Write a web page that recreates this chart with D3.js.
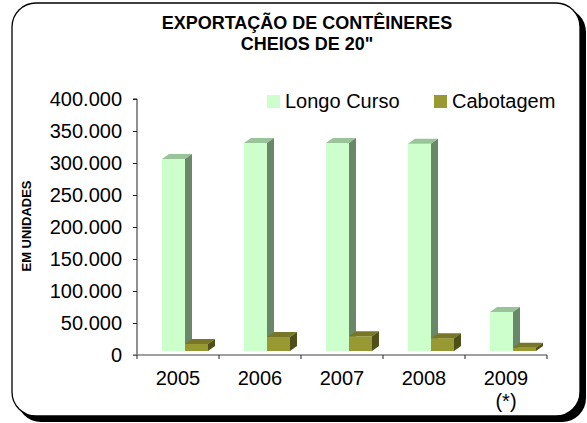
<!DOCTYPE html>
<html>
<head>
<meta charset="utf-8">
<script src="https://cdn.jsdelivr.net/npm/d3@7"></script>
<style>
body { margin: 0; background: #fff; }
text { font-family: "Liberation Sans", Arial, sans-serif; }
</style>
</head>
<body>
<script>
// data
var years = ["2005", "2006", "2007", "2008", "2009"];
var yearNotes = ["", "", "", "", "(*)"];
var seriesNames = ["Longo Curso", "Cabotagem"];
var longoCurso = [300000, 325000, 325000, 324000, 61000];
var cabotagem = [11000, 22000, 23000, 20000, 5000];
var yTicks = [0, 50000, 100000, 150000, 200000, 250000, 300000, 350000, 400000];

var W = 587, H = 423;
var svg = d3.select("body").append("svg").attr("width", W).attr("height", H);

// frame with shadow
svg.append("rect").attr("x", 17).attr("y", 8).attr("width", 569).attr("height", 414)
  .attr("rx", 24).attr("fill", "#000");
svg.append("rect").attr("x", 12).attr("y", 3).attr("width", 568).attr("height", 413)
  .attr("rx", 24).attr("fill", "#fff").attr("stroke", "#000").attr("stroke-width", 1.3);

// title
var title = svg.append("text").attr("text-anchor", "middle").attr("font-weight", "bold")
  .attr("font-size", 18);
title.append("tspan").attr("x", 307).attr("y", 29).text("EXPORTAÇÃO DE CONTÊINERES");
title.append("tspan").attr("x", 307).attr("y", 50).text("CHEIOS DE 20\"");

var y = d3.scaleLinear().domain([0, 400000]).range([355, 99]);
var x0 = d3.scaleBand().domain(years).range([137, 547]);
var x1 = d3.scaleBand().domain(seriesNames).range([25, 71]);

var fmt = function (d) { return d3.format(",")(d).replace(/,/g, "."); };

// y axis
var yAxis = svg.append("g").attr("transform", "translate(137,0)")
  .call(d3.axisLeft(y).tickValues(yTicks).tickFormat(fmt).tickSize(4).tickPadding(11));
yAxis.select(".domain").attr("stroke", "#222").attr("d", "M-4,99H0V355");
yAxis.selectAll(".tick line").attr("stroke", "#222");
yAxis.selectAll("text").attr("font-size", 20).attr("fill", "#000")
  .attr("font-family", "'Liberation Sans', Arial, sans-serif");

// x axis
var xg = svg.append("g").attr("transform", "translate(0,355)");
xg.append("line").attr("x1", 133).attr("x2", 547).attr("y1", 0).attr("y2", 0)
  .attr("stroke", "#808080").attr("stroke-width", 1.5);
xg.selectAll("line.tk").data(years.concat(["end"])).enter().append("line")
  .attr("class", "tk")
  .attr("x1", function (d, i) { return i < years.length ? x0(d) : x0.range()[1]; })
  .attr("x2", function (d, i) { return i < years.length ? x0(d) : x0.range()[1]; })
  .attr("y1", 0).attr("y2", 4).attr("stroke", "#222");
xg.selectAll("text.yr").data(years).enter().append("text").attr("class", "yr")
  .attr("x", function (d) { return x0(d) + x0.bandwidth() / 2; })
  .attr("y", 30).attr("text-anchor", "middle").attr("font-size", 20).text(function (d) { return d; });
xg.selectAll("text.note").data(yearNotes).enter().append("text").attr("class", "note")
  .attr("x", function (d, i) { return x0(years[i]) + x0.bandwidth() / 2; })
  .attr("y", 53).attr("text-anchor", "middle").attr("font-size", 20).text(function (d) { return d; });

// y title
svg.append("text").attr("transform", "translate(31,226) rotate(-90)")
  .attr("text-anchor", "middle").attr("font-weight", "bold").attr("font-size", 13)
  .text("EM UNIDADES");

// 3d bars
var dx = 7, dy = 5, lift = 4;
var colors = {
  "Longo Curso": { front: "#ccffcc", top: "#99c499", side: "#688868" },
  "Cabotagem": { front: "#999933", top: "#777727", side: "#4f4f18" }
};
var rows = [];
years.forEach(function (yr, i) {
  rows.push({ year: yr, s: "Longo Curso", v: longoCurso[i] });
  rows.push({ year: yr, s: "Cabotagem", v: cabotagem[i] });
});
var bw = x1.bandwidth();
var bars = svg.selectAll("g.bar").data(rows).enter().append("g").attr("class", "bar");
bars.append("rect")
  .attr("x", function (d) { return x0(d.year) + x1(d.s); })
  .attr("y", function (d) { return y(d.v) - lift; })
  .attr("width", bw)
  .attr("height", function (d) { return y(0) - y(d.v); })
  .attr("fill", function (d) { return colors[d.s].front; });
bars.append("polygon")
  .attr("points", function (d) {
    var l = x0(d.year) + x1(d.s), r = l + bw, t = y(d.v) - lift;
    return [[l, t], [l + dx, t - dy], [r + dx, t - dy], [r, t]].join(" ");
  })
  .attr("fill", function (d) { return colors[d.s].top; });
bars.append("polygon")
  .attr("points", function (d) {
    var r = x0(d.year) + x1(d.s) + bw, t = y(d.v) - lift, b = y(0) - lift;
    return [[r, t], [r + dx, t - dy], [r + dx, b - dy], [r, b]].join(" ");
  })
  .attr("fill", function (d) { return colors[d.s].side; });

// legend
var leg = svg.append("g");
var legX = [267, 434];
seriesNames.forEach(function (s, i) {
  leg.append("rect").attr("x", legX[i]).attr("y", 95).attr("width", 13).attr("height", 13)
    .attr("fill", colors[s].front);
  leg.append("text").attr("x", legX[i] + 18).attr("y", 108).attr("font-size", 20).text(s);
});
</script>
</body>
</html>
